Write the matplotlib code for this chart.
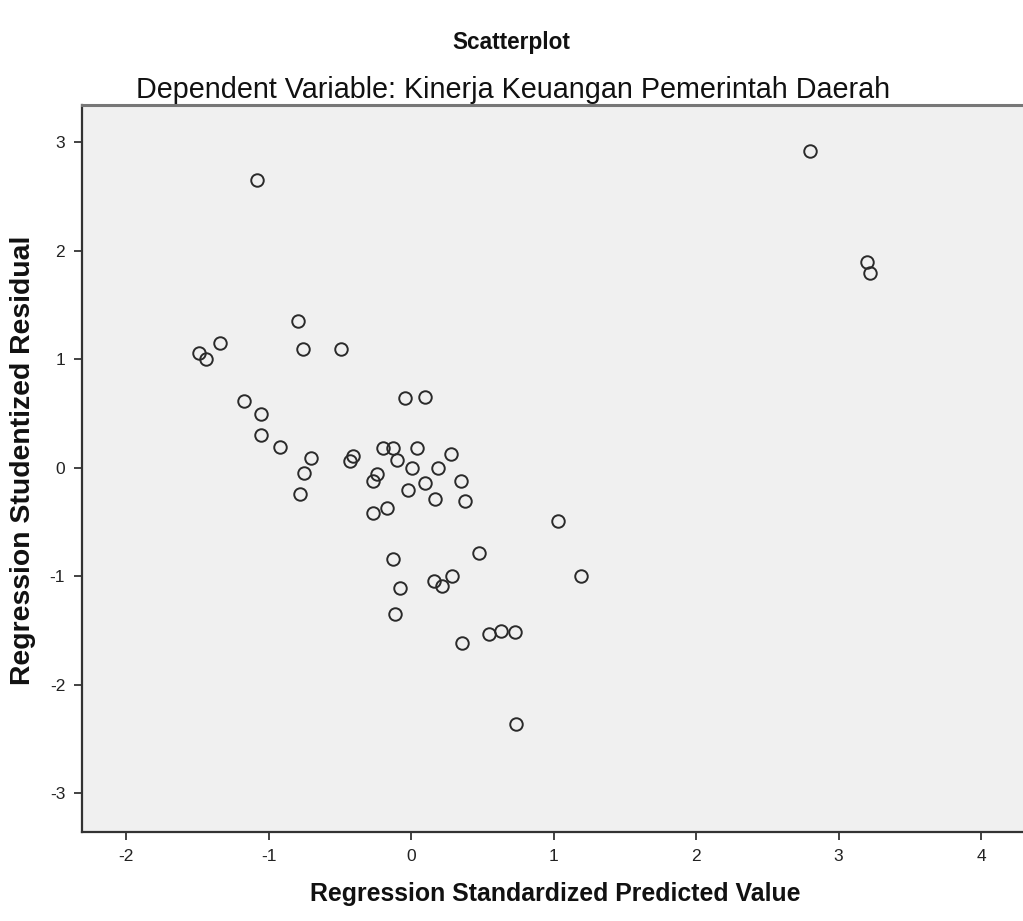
import matplotlib
matplotlib.use("Agg")
import matplotlib.pyplot as plt

plt.rcParams['font.family'] = ['Liberation Sans', 'DejaVu Sans']

# Regression Standardized Predicted Value (x) and Studentized Residual (y)
pred = [-1.08, 2.80, 3.20, 3.22, -0.79, -1.49, -1.44, -1.34, -0.76, -0.49,
        -0.04, 0.10, -1.17, -1.05, -1.05, -0.92, -0.70, -0.75, -0.78, -0.41,
        -0.43, -0.20, -0.13, -0.10, 0.04, 0.28, -0.24, -0.27, 0.01, 0.19,
        0.10, 0.35, -0.02, 0.17, 0.38, -0.27, -0.17, 1.03, -0.13, 0.48,
        -0.08, 0.16, 0.22, 0.29, 1.19, -0.11, 0.55, 0.63, 0.73, 0.36, 0.74]
resid = [2.65, 2.92, 1.90, 1.79, 1.35, 1.06, 1.00, 1.15, 1.09, 1.09,
         0.64, 0.65, 0.61, 0.49, 0.30, 0.19, 0.09, -0.05, -0.24, 0.11,
         0.06, 0.18, 0.18, 0.07, 0.18, 0.13, -0.06, -0.12, 0.00, 0.00,
         -0.14, -0.12, -0.21, -0.29, -0.31, -0.42, -0.37, -0.49, -0.84, -0.79,
         -1.11, -1.05, -1.09, -1.00, -1.00, -1.35, -1.53, -1.51, -1.52, -1.62, -2.36]

x_ticks = [-2, -1, 0, 1, 2, 3, 4]
y_ticks = [-3, -2, -1, 0, 1, 2, 3]

fig = plt.figure(figsize=(10.23, 9.21), dpi=100)
ax = fig.add_axes([0.080, 0.0966, 0.925, 0.789])
ax.set_facecolor('#f0f0f0')

ax.plot(pred, resid, linestyle='none', marker='o', markersize=9,
        markerfacecolor='none', markeredgecolor='#2a2a2a', markeredgewidth=1.4)

ax.set_xlim(-2.31, 4.33)
ax.set_ylim(-3.36, 3.34)
ax.set_xticks(x_ticks)
ax.set_yticks(y_ticks)
ax.set_xticklabels([str(t) for t in x_ticks])
ax.set_yticklabels([str(t) for t in y_ticks])
ax.tick_params(direction='out', length=6, width=1.2, labelsize=12.5,
               colors='#222222', pad=6)

for side in ['left', 'bottom']:
    ax.spines[side].set_color('#333333')
    ax.spines[side].set_linewidth(1.6)
ax.spines['top'].set_color('#777777')
ax.spines['top'].set_linewidth(2.2)
ax.spines['right'].set_visible(False)

ax.set_xlabel('Regression Standardized Predicted Value', fontsize=17.9,
              fontweight='bold', labelpad=13, color='#111111')
ax.set_ylabel('Regression Studentized Residual', fontsize=20.4,
              fontweight='bold', labelpad=10, color='#111111')
ax.yaxis.label.set_y(0.511)

fig.text(0.5, 0.954, 'Scatterplot', ha='center', va='center',
         fontsize=16.3, fontweight='bold', color='#111111')
fig.text(0.502, 0.902, 'Dependent Variable: Kinerja Keuangan Pemerintah Daerah',
         ha='center', va='center', fontsize=20.7, color='#111111')

fig.savefig('out.png', dpi=100)
